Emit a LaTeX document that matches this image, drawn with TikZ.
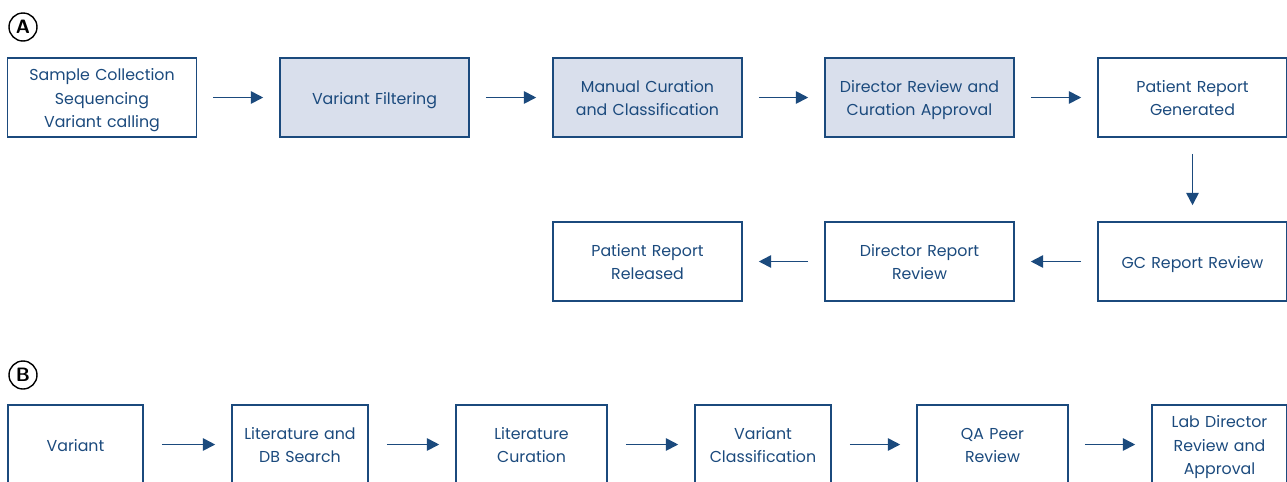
\documentclass[tikz,border=0pt]{standalone}
\usepackage{fontspec}
\setmainfont{Poppins}
\usepackage{tikz}
\usetikzlibrary{arrows.meta}
\usepackage{xcolor}
\definecolor{flowblue}{HTML}{1B4A7D}
\definecolor{flowfill}{HTML}{D9DFEC}

\begin{document}
\begin{tikzpicture}[x=0.02cm, y=-0.02cm,
  stepbox/.style={draw=flowblue, line width=0.9pt, text=flowblue, align=center,
    minimum height=1.58cm, inner sep=0pt, text width=2.5cm,
    font=\fontsize{9}{13.6}\selectfont,
    execute at begin node={\noindent\rule{0pt}{10pt}},
    execute at end node={\rule[-2.6pt]{0pt}{0pt}}},
  wide/.style={minimum width=3.78cm, text width=3.4cm},
  shaded/.style={fill=flowfill},
  flowarrow/.style={draw=flowblue, line width=1pt, -{Triangle[length=7pt,width=7pt]},
    shorten <=0.32cm, shorten >=0.32cm},
  panel/.style={circle, draw, line width=0.8pt, minimum size=0.56cm, inner sep=0pt,
    font=\sffamily\bfseries\fontsize{11}{11}\selectfont}]
\useasboundingbox (0,0) rectangle (1287,481);

% panel A
\node[panel] (labA) at (23,27) {A};
\node[stepbox, wide] (collect) at (102,97.5) {Sample Collection\\Sequencing\\Variant calling};
\node[stepbox, wide, shaded] (filter) at (374.5,97.5) {Variant Filtering};
\node[stepbox, wide, shaded] (curate) at (647.5,97.5) {Manual Curation\\and Classification};
\node[stepbox, wide, shaded] (approve) at (919.5,97.5) {Director Review and\\Curation Approval};
\node[stepbox, wide] (generate) at (1192.5,97.5) {Patient Report\\Generated};
\node[stepbox, wide] (gcreview) at (1192.5,261.5) {GC Report Review};
\node[stepbox, wide] (dirreview) at (919.5,261.5) {Director Report\\Review};
\node[stepbox, wide] (release) at (647.5,261.5) {Patient Report\\Released};

\draw[flowarrow] (collect) -- (filter);
\draw[flowarrow] (filter) -- (curate);
\draw[flowarrow] (curate) -- (approve);
\draw[flowarrow] (approve) -- (generate);
\draw[flowarrow] (generate) -- (gcreview);
\draw[flowarrow] (gcreview) -- (dirreview);
\draw[flowarrow] (dirreview) -- (release);

% panel B
\node[panel] (labB) at (23,375) {B};
\node[stepbox, minimum width=2.7cm] (variant) at (75.5,444.5) {Variant};
\node[stepbox, minimum width=2.72cm] (search) at (300,444.5) {Literature and\\DB Search};
\node[stepbox, minimum width=3.02cm] (litcur) at (531.5,444.5) {Literature\\Curation};
\node[stepbox, minimum width=2.72cm] (classify) at (763,444.5) {Variant\\Classification};
\node[stepbox, minimum width=3.02cm] (peer) at (992.5,444.5) {QA Peer\\Review};
\node[stepbox, minimum width=2.7cm] (labdir) at (1219.5,444.5) {Lab Director\\Review and\\Approval};

\draw[flowarrow, shorten <=0.36cm] (variant) -- (search);
\draw[flowarrow, shorten <=0.36cm] (search) -- (litcur);
\draw[flowarrow, shorten <=0.36cm] (litcur) -- (classify);
\draw[flowarrow, shorten <=0.36cm] (classify) -- (peer);
\draw[flowarrow] (peer) -- (labdir);
\end{tikzpicture}
\end{document}
